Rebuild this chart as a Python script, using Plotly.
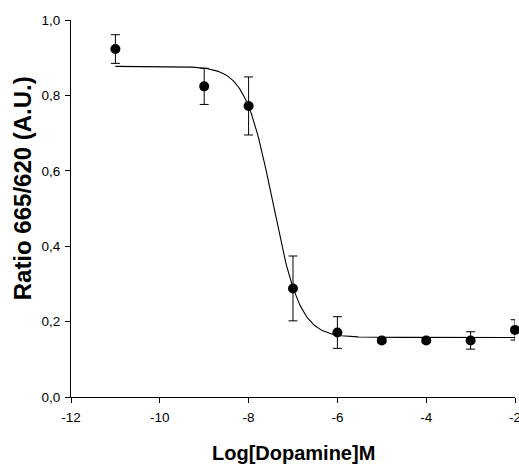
import numpy as np
import plotly.graph_objects as go

# Data
log_conc = [-11, -9, -8, -7, -6, -5, -4, -3, -2]
ratio = [0.923, 0.824, 0.772, 0.288, 0.171, 0.150, 0.150, 0.150, 0.178]
sem = [0.038, 0.048, 0.077, 0.086, 0.042, 0.006, 0.006, 0.023, 0.027]

# 4-parameter logistic fit parameters
fit_top = 0.877
fit_bottom = 0.158
fit_logec50 = -7.46
fit_hill = 1.41

x_ticks = [-12, -10, -8, -6, -4, -2]
x_ticklabels = ["-12", "-10", "-8", "-6", "-4", "-2"]
y_ticks = [0.0, 0.2, 0.4, 0.6, 0.8, 1.0]
y_ticklabels = ["0,0", "0,2", "0,4", "0,6", "0,8", "1,0"]

x_title = "Log[Dopamine]M"
y_title = "Ratio 665/620 (A.U.)"

xf = np.linspace(min(log_conc), max(log_conc), 400)
yf = fit_bottom + (fit_top - fit_bottom) / (1 + 10 ** ((xf - fit_logec50) * fit_hill))

fig = go.Figure()
fig.add_trace(go.Scatter(x=xf, y=yf, mode="lines",
                         line=dict(color="black", width=1.1),
                         hoverinfo="skip", showlegend=False, cliponaxis=False))
fig.add_trace(go.Scatter(x=log_conc, y=ratio, mode="markers",
                         marker=dict(color="black", size=10),
                         error_y=dict(type="data", array=sem, visible=True,
                                      color="black", thickness=1, width=4.5),
                         cliponaxis=False, showlegend=False))

font = "Liberation Sans, Arial, sans-serif"
fig.update_layout(
    width=519, height=465,
    margin=dict(l=71, r=4, t=20, b=68),
    plot_bgcolor="white", paper_bgcolor="white",
    font=dict(family=font, color="black", size=13.5),
    xaxis=dict(range=[-12, -2], tickvals=x_ticks, ticktext=x_ticklabels,
               showgrid=False, zeroline=False, showline=True, automargin=False,
               linecolor="black", linewidth=1, ticks="outside", ticklen=5,
               tickcolor="black", ticklabeloverflow="allow", ticklabelstandoff=3,
               tickfont=dict(size=13.5, family=font)),
    yaxis=dict(range=[0, 1.0], tickvals=y_ticks, ticktext=y_ticklabels,
               showgrid=False, zeroline=False, showline=True, automargin=False,
               linecolor="black", linewidth=1, ticks="outside", ticklen=5,
               tickcolor="black", ticklabeloverflow="allow", ticklabelstandoff=2,
               tickfont=dict(size=13.5, family=font)),
    annotations=[
        dict(text="<b>" + x_title + "</b>", xref="paper", yref="paper",
             x=0.502, y=-0.148, xanchor="center", yanchor="middle",
             showarrow=False, font=dict(size=20, family=font)),
        dict(text="<b>" + y_title + "</b>", xref="paper", yref="paper",
             x=-0.11, y=0.554, xanchor="center", yanchor="middle",
             textangle=-90, showarrow=False,
             font=dict(size=24, family=font)),
    ],
)

fig.write_html("out.html", config={"displayModeBar": False},
               post_script="document.body.style.margin='0';document.body.style.padding='0';")
